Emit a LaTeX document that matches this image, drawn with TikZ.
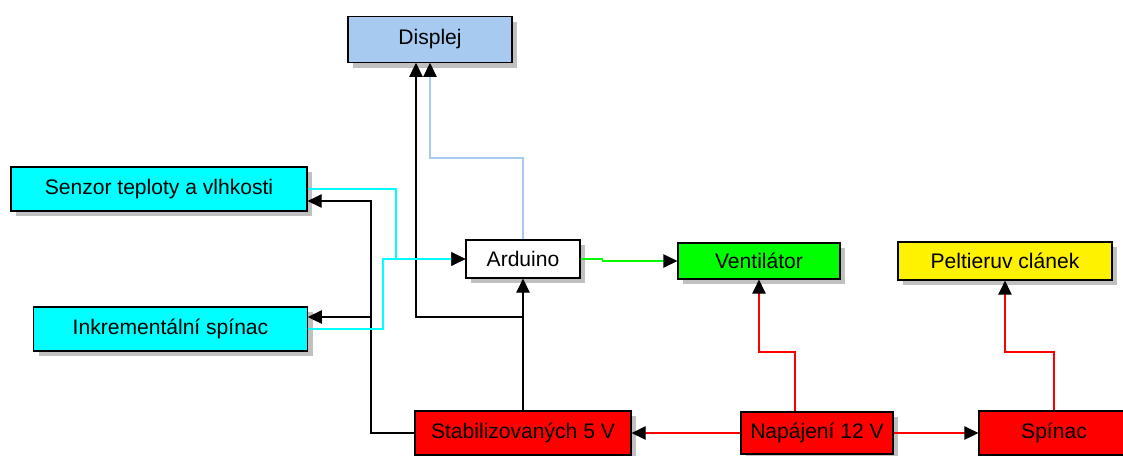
\documentclass[tikz,border=0pt]{standalone}
\usepackage{fontspec}
\setmainfont{Liberation Sans}
\usetikzlibrary{arrows.meta,shadows}

\definecolor{dispblue}{RGB}{166,202,240}
\definecolor{shadowgray}{RGB}{192,192,192}
\definecolor{aqua}{RGB}{0,255,255}
\definecolor{lime}{RGB}{0,255,0}

\begin{document}
\begin{tikzpicture}
		[x=0.75pt,y=-0.75pt,
		every node/.style={draw=black,line width=0.9pt,inner sep=0pt,font=\fontsize{15.8}{18}\selectfont,
			drop shadow={shadow xshift=4pt,shadow yshift=-4pt,fill=shadowgray,opacity=1}},
		edge/.style={line width=0.9pt,-{Triangle[length=10.5pt,width=10pt,color=black]}}]
		\useasboundingbox (0,0) rectangle (1123,455);
		\clip (0,0) rectangle (1123,455);
		\node[fill=dispblue,minimum width=123pt,minimum height=34pt] (disp) at (430,39.5) {Displej};
		\node[fill=aqua,minimum width=222pt,minimum height=33pt] (senz) at (159,189) {Senzor teploty a vlhkosti};
		\node[fill=aqua,minimum width=205pt,minimum height=33pt] (inkr) at (170.5,329) {Inkrementální spínac};
		\node[fill=white,minimum width=85.5pt,minimum height=28.5pt] (ard) at (523,259) {Arduino};
		\node[fill=lime,minimum width=121.5pt,minimum height=27pt] (vent) at (759,261) {Ventilátor};
		\node[fill=yellow,minimum width=160.5pt,minimum height=28.5pt] (pelt) at (1005,261) {Peltieruv clánek};
		\node[fill=red,minimum width=162pt,minimum height=33pt] (stab) at (523,433) {Stabilizovaných 5 V};
		\node[fill=red,minimum width=114pt,minimum height=31.5pt] (nap) at (817,433) {Napájení 12 V};
		\node[fill=red,minimum width=112.5pt,minimum height=33pt] (spin) at (1054,433) {Spínac};
		
		% bends
		\coordinate (b1) at (795,352);
		\coordinate (b2) at (1005,352);
		\coordinate (b3) at (416,317);
		\coordinate (lj) at (371,201);
		\coordinate (c1) at (396,259);
		\coordinate (c2) at (383,259);
		\coordinate (c3) at (430,158);
		
		\draw[edge,red] (nap.west) -- (stab.east);
		\draw[edge,red] (nap.east) -- (spin.west);
		\draw[edge,red] (nap.north -| b1) -- (b1) -| (vent.south);
		\draw[edge,red] (spin.north) |- (b2) -- (pelt.south);
		\draw[edge] (stab.north) -- (ard.south);
		\draw[edge] (ard.south |- b3) -- (b3) -- (b3 |- disp.south);
		\draw[edge] (stab.west) -| (lj) -- (lj -| senz.east);
		\draw[edge] (lj |- b3) -- (b3 -| inkr.east);
		\draw[edge,aqua] (senz.east) -| (c1) -- (ard.west);
		\draw[edge,aqua] (inkr.east) -| (c2) -- (ard.west);
		\draw[edge,dispblue] (ard.north) |- (c3) -- (disp.south);
		\draw[edge,lime] (ard.east) -- ++(22,0) |- (vent.west);
		\end{tikzpicture}
\end{document}
